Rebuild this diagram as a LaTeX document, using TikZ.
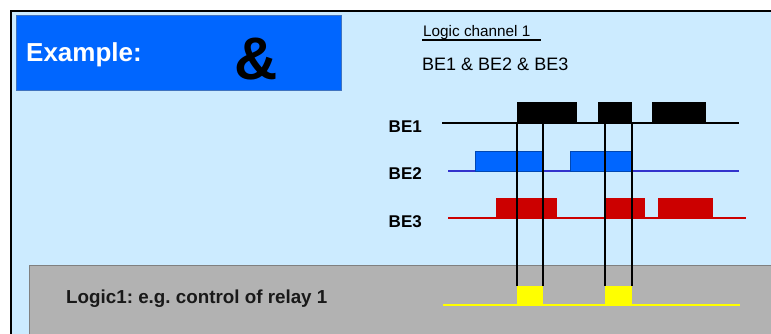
\documentclass[tikz,border=0pt]{standalone}
\usepackage{fontspec}
\setmainfont{Liberation Sans}
\frenchspacing

\definecolor{panelBlue}{HTML}{CCEBFF}
\definecolor{titleBlue}{HTML}{0066FF}
\definecolor{lineBlue}{HTML}{3333CC}
\definecolor{sigRed}{HTML}{CC0000}
\definecolor{bandGray}{HTML}{B2B2B2}
\definecolor{sigYellow}{HTML}{FFFF00}

\def\beOneY{123}
\def\beTwoY{171}
\def\beThreeY{218}
\def\logicY{305}
\def\pulseHeight{20}

\tikzset{
    siglabel/.style = {anchor = base east, font = \fontsize{17}{17}\selectfont\bfseries, inner sep = 0pt},
    sigline/.style = {line width = 2pt},
    cutline/.style = {line width = 1.4pt, black}
}

\begin{document}
\begin{tikzpicture}[x = 1pt, y = -1pt]
            \useasboundingbox (0,0) rectangle (771,334);
            \fill [white] (0,0) rectangle (771,334);
            % panel
            \fill [panelBlue] (11,11) rectangle (771,334);
            \draw [line width = 2pt] (11,336) |- (773,11);
            % title box
            \draw [fill = titleBlue, draw = titleBlue!50!gray, line width = 0.6pt]
            (16,15) rectangle (341,90)
            ;
            \node (example) [anchor = base west, text = white, inner sep = 0pt,
                font = \fontsize{26}{26}\selectfont\bfseries] at (26,62) {Example:};
            \node (andsign) [anchor = base, inner sep = 0pt, font = \fontsize{60}{60}\selectfont\bfseries]
            at (256,80) {\&};
            % channel heading
            \node (channel) [anchor = base west, inner sep = 0pt, font = \fontsize{15.3}{15.3}\selectfont]
            at (423,37) {Logic channel 1};
            \draw [line width = 1.2pt] (422,40) -- (541,40);
            \node (formula) [anchor = base west, inner sep = 0pt, font = \fontsize{18}{18}\selectfont]
            at (422,71) {BE1 \& BE2 \& BE3};
            % logic band
            \draw [fill = bandGray, draw = gray, line width = 1pt]
            (29,265) rectangle (773,336)
            ;
            \node (result) [anchor = base west, inner sep = 0pt, text = black!90,
                font = \fontsize{18.8}{18.8}\selectfont\bfseries]
            at (66,303) {Logic1: e.g. control of relay 1};
            % signal labels
            \node (beOne) [siglabel] at (422,133) {BE1};
            \node (beTwo) [siglabel] at (422,179) {BE2};
            \node (beThree) [siglabel] at (422,227) {BE3};
            % BE1
            \draw [sigline] (442,\beOneY) -- (739,\beOneY);
            \foreach \a/\b in {517/577, 598/632, 652/706}
                \fill (\a,\beOneY) rectangle (\b,{\beOneY-\pulseHeight-1});
            % BE2
            \draw [sigline, lineBlue] (448,\beTwoY) -- (739,\beTwoY);
            \foreach \a/\b in {475/543, 570/631}
                \draw [fill = titleBlue, draw = titleBlue!70!black, line width = 0.5pt]
                (\a,\beTwoY) rectangle (\b,{\beTwoY-\pulseHeight});
            % BE3
            \draw [sigline, sigRed] (448,\beThreeY) -- (746,\beThreeY);
            \foreach \a/\b in {496/557, 605/645, 658/713}
                \fill [sigRed] (\a,\beThreeY) rectangle (\b,{\beThreeY-\pulseHeight});
            % result
            \draw [sigline, sigYellow, line width = 2.5pt] (443,\logicY) -- (740,\logicY);
            \foreach \a/\b in {517/543, 605/632}
                \fill [sigYellow] (\a,\logicY) rectangle (\b,{\logicY-\pulseHeight+1});
            % cut lines
            \foreach \x [count = \i] in {517, 543, 605, 632} {
                \coordinate (cutTop\i) at (\x,\beOneY);
                \coordinate (cutBot\i) at (\x,{\logicY-\pulseHeight+1});
                \draw [cutline] (cutTop\i) -- (cutBot\i);
            }
        \end{tikzpicture}
\end{document}
